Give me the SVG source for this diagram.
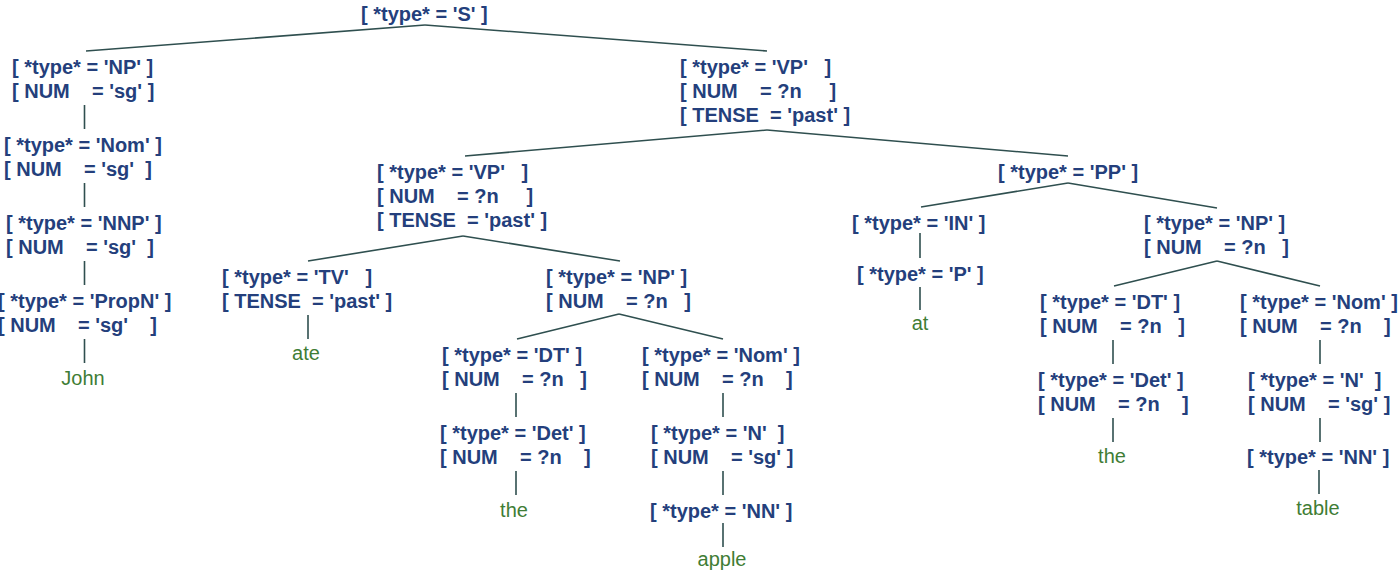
<svg xmlns="http://www.w3.org/2000/svg" width="1400" height="576" viewBox="0 0 1400 576" xml:space="preserve">
  <style>
    .fs { font-family: "Liberation Sans", Arial, Helvetica, sans-serif; font-weight: bold; font-size: 20px; fill: #243f7c; white-space: pre; }
    .leaf { font-family: "Liberation Sans", Arial, Helvetica, sans-serif; font-size: 20px; fill: #3f7d35; text-anchor: middle; }
    .edges line { stroke: #2f4f4f; stroke-width: 1.6; }
  </style>
  <rect width="1400" height="576" fill="#ffffff"/>

  <!-- tree branches -->
  <g id="connectors" class="edges">
    <line x1="425" y1="25" x2="86" y2="51"/>
    <line x1="425" y1="25" x2="767" y2="51"/>
    <line x1="84.5" y1="105" x2="84.5" y2="129"/>
    <line x1="84.5" y1="183" x2="84.5" y2="207"/>
    <line x1="84.5" y1="261" x2="84.5" y2="285"/>
    <line x1="84.5" y1="339" x2="84.5" y2="363"/>
    <line x1="767" y1="130" x2="465" y2="156"/>
    <line x1="767" y1="130" x2="1068" y2="156"/>
    <line x1="463" y1="236" x2="308" y2="261"/>
    <line x1="463" y1="236" x2="620" y2="261"/>
    <line x1="308" y1="315" x2="308" y2="339"/>
    <line x1="619" y1="314" x2="517" y2="339"/>
    <line x1="619" y1="314" x2="723" y2="339"/>
    <line x1="516" y1="393" x2="516" y2="417"/>
    <line x1="516" y1="471" x2="516" y2="495"/>
    <line x1="723" y1="393" x2="723" y2="417"/>
    <line x1="723" y1="471" x2="723" y2="495"/>
    <line x1="723" y1="523" x2="723" y2="547"/>
    <line x1="1068" y1="183" x2="921" y2="207"/>
    <line x1="1068" y1="183" x2="1217" y2="208"/>
    <line x1="920" y1="233" x2="920" y2="258"/>
    <line x1="920" y1="287" x2="920" y2="310"/>
    <line x1="1217" y1="261" x2="1114" y2="286"/>
    <line x1="1217" y1="261" x2="1320" y2="286"/>
    <line x1="1113" y1="340" x2="1113" y2="364"/>
    <line x1="1113" y1="418" x2="1113" y2="442"/>
    <line x1="1320" y1="340" x2="1320" y2="364"/>
    <line x1="1320" y1="418" x2="1320" y2="442"/>
    <line x1="1319" y1="470" x2="1319" y2="494"/>
  </g>

  <!-- root -->
  <g id="s"><text class="fs" x="361" y="21">[ *type* = 'S' ]</text></g>

  <!-- subject branch -->
  <g id="np-subj"><text class="fs" x="12" y="74">[ *type* = 'NP' ]</text><text class="fs" x="12" y="98">[ NUM    = 'sg' ]</text></g>
  <g id="nom-subj"><text class="fs" x="4" y="152">[ *type* = 'Nom' ]</text><text class="fs" x="4" y="176">[ NUM    = 'sg'  ]</text></g>
  <g id="nnp-subj"><text class="fs" x="6" y="230">[ *type* = 'NNP' ]</text><text class="fs" x="6" y="254">[ NUM    = 'sg'  ]</text></g>
  <g id="propn-subj"><text class="fs" x="-2" y="308">[ *type* = 'PropN' ]</text><text class="fs" x="-2" y="332">[ NUM    = 'sg'    ]</text></g>
  <g id="leaf-john"><text class="leaf" x="83" y="385">John</text></g>

  <!-- predicate -->
  <g id="vp-top"><text class="fs" x="680" y="74">[ *type* = 'VP'   ]</text><text class="fs" x="680" y="98">[ NUM    = ?n     ]</text><text class="fs" x="680" y="122">[ TENSE  = 'past' ]</text></g>
  <g id="vp-inner"><text class="fs" x="377" y="179">[ *type* = 'VP'   ]</text><text class="fs" x="377" y="203">[ NUM    = ?n     ]</text><text class="fs" x="377" y="227">[ TENSE  = 'past' ]</text></g>
  <g id="tv"><text class="fs" x="222" y="284">[ *type* = 'TV'   ]</text><text class="fs" x="222" y="308">[ TENSE  = 'past' ]</text></g>
  <g id="leaf-ate"><text class="leaf" x="306" y="360">ate</text></g>

  <!-- object noun phrase -->
  <g id="np-obj"><text class="fs" x="546" y="284">[ *type* = 'NP' ]</text><text class="fs" x="546" y="308">[ NUM    = ?n   ]</text></g>
  <g id="dt-obj"><text class="fs" x="442" y="362">[ *type* = 'DT' ]</text><text class="fs" x="442" y="386">[ NUM    = ?n   ]</text></g>
  <g id="det-obj"><text class="fs" x="440" y="440">[ *type* = 'Det' ]</text><text class="fs" x="440" y="464">[ NUM    = ?n    ]</text></g>
  <g id="leaf-the-obj"><text class="leaf" x="514" y="517">the</text></g>
  <g id="nom-obj"><text class="fs" x="642" y="362">[ *type* = 'Nom' ]</text><text class="fs" x="642" y="386">[ NUM    = ?n    ]</text></g>
  <g id="n-obj"><text class="fs" x="651" y="440">[ *type* = 'N'  ]</text><text class="fs" x="651" y="464">[ NUM    = 'sg' ]</text></g>
  <g id="nn-obj"><text class="fs" x="650" y="518">[ *type* = 'NN' ]</text></g>
  <g id="leaf-apple"><text class="leaf" x="722" y="566">apple</text></g>

  <!-- prepositional phrase -->
  <g id="pp"><text class="fs" x="998" y="179">[ *type* = 'PP' ]</text></g>
  <g id="in"><text class="fs" x="852" y="230">[ *type* = 'IN' ]</text></g>
  <g id="p"><text class="fs" x="857" y="281">[ *type* = 'P' ]</text></g>
  <g id="leaf-at"><text class="leaf" x="920" y="330">at</text></g>
  <g id="np-pp"><text class="fs" x="1144" y="230">[ *type* = 'NP' ]</text><text class="fs" x="1144" y="254">[ NUM    = ?n   ]</text></g>
  <g id="dt-pp"><text class="fs" x="1040" y="309">[ *type* = 'DT' ]</text><text class="fs" x="1040" y="333">[ NUM    = ?n   ]</text></g>
  <g id="det-pp"><text class="fs" x="1038" y="387">[ *type* = 'Det' ]</text><text class="fs" x="1038" y="411">[ NUM    = ?n    ]</text></g>
  <g id="leaf-the-pp"><text class="leaf" x="1112" y="463">the</text></g>
  <g id="nom-pp"><text class="fs" x="1240" y="309">[ *type* = 'Nom' ]</text><text class="fs" x="1240" y="333">[ NUM    = ?n    ]</text></g>
  <g id="n-pp"><text class="fs" x="1248" y="387">[ *type* = 'N'  ]</text><text class="fs" x="1248" y="411">[ NUM    = 'sg' ]</text></g>
  <g id="nn-pp"><text class="fs" x="1247" y="464">[ *type* = 'NN' ]</text></g>
  <g id="leaf-table"><text class="leaf" x="1318" y="515">table</text></g>
</svg>
